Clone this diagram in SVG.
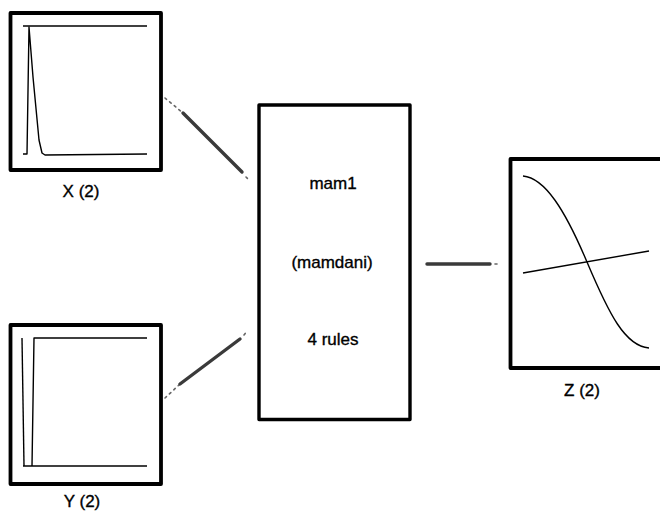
<svg xmlns="http://www.w3.org/2000/svg" width="660" height="512" viewBox="0 0 660 512">
  <style>
    .frame { fill: #fff; stroke: #000; stroke-width: 3.8; stroke-linejoin: round; }
    .mf { fill: none; stroke: #000; stroke-width: 1.4; stroke-linejoin: round; }
    .label { font-family: "Liberation Sans", Arial, sans-serif; font-size: 17px; fill: #000; stroke: #000; stroke-width: 0.35; text-anchor: middle; }
    .wire { stroke: #3a3a3a; stroke-width: 3.4; stroke-linecap: round; fill: none; }
    .wire-faint { stroke: #666; stroke-width: 1.6; stroke-linecap: round; stroke-dasharray: 2 4; fill: none; }
  </style>
  <rect width="660" height="512" fill="#fff"/>

  <!-- connectors between the variables and the rule system -->
  <g id="connectors">
    <path class="wire-faint" d="M165,98 L183,113"/>
    <path class="wire" d="M183,113 L242,172"/>
    <path class="wire-faint" d="M246,177 L250,181"/>

    <path class="wire-faint" d="M165,398 L180,384"/>
    <path class="wire" d="M180,384 L240,339"/>
    <path class="wire-faint" d="M244,335 L247,331"/>

    <path class="wire" d="M427,264 L490,264"/>
    <path class="wire-faint" d="M495,264 L501,264"/>
  </g>

  <!-- input X -->
  <g id="node-x">
    <rect class="frame" x="10.5" y="13" width="150.5" height="157"/>
    <path class="mf" d="M23,26 L147,26"/>
    <path class="mf" d="M23,154 L27,154 L29,27 L33,77 L39,140 L42,153 L45,155 L147,154"/>
    <text class="label" x="81" y="197">X (2)</text>
  </g>

  <!-- input Y -->
  <g id="node-y">
    <rect class="frame" x="10.5" y="325" width="150.5" height="159"/>
    <path class="mf" d="M22,338 L24,466"/>
    <path class="mf" d="M147,338 L34,338 L32,466"/>
    <path class="mf" d="M23,466 L147,466"/>
    <text class="label" x="82" y="507">Y (2)</text>
  </g>

  <!-- rule system -->
  <g id="node-mam1">
    <rect class="frame" x="259" y="105" width="151" height="314.5" style="stroke-width:3.4"/>
    <text class="label" x="333" y="189">mam1</text>
    <text class="label" x="332" y="268">(mamdani)</text>
    <text class="label" x="333" y="345">4 rules</text>
  </g>

  <!-- output Z -->
  <g id="node-z">
    <rect class="frame" x="510.5" y="159" width="160" height="209"/>
    <path class="mf" d="M523,176 C545,178 565,210 587,262 C609,314 625,346 649,348"/>
    <path class="mf" d="M523,273 L649,251"/>
    <text class="label" x="582" y="396">Z (2)</text>
  </g>
</svg>
